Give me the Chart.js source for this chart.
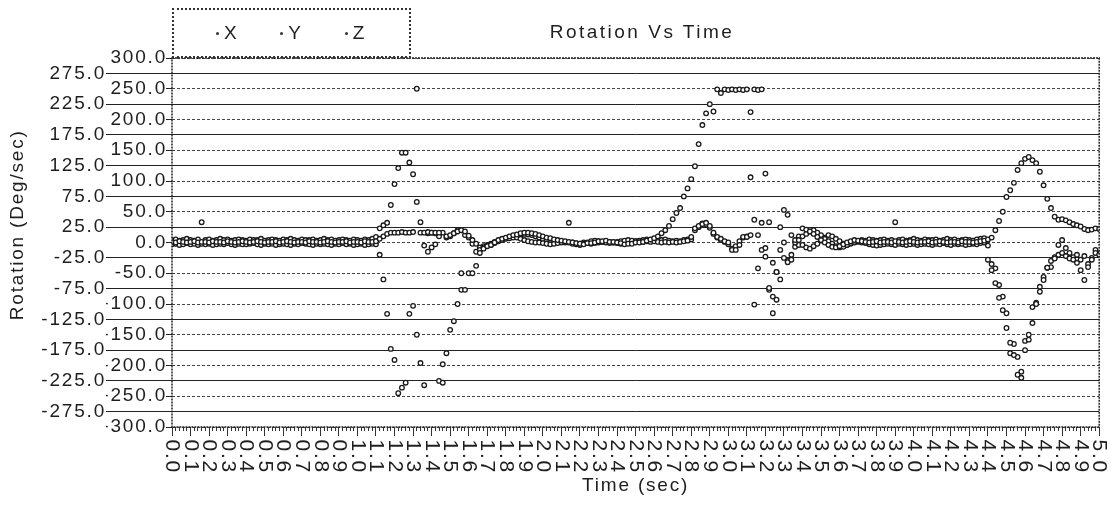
<!DOCTYPE html>
<html>
<head>
<meta charset="utf-8">
<title>Rotation Vs Time</title>
<script src="https://cdn.jsdelivr.net/npm/chart.js@4.4.1/dist/chart.umd.min.js"></script>
<style>
  html, body { margin: 0; padding: 0; background: #fff; }
  #wrap { position: relative; width: 1112px; height: 521px; font-family: 'Liberation Sans', Arial, sans-serif; color: #1e1e1e; }
  #rotation-chart { position: absolute; left: 0; top: 0; }
  #chart-title { position: absolute; left: 520px; width: 244px; top: 21px; text-align: center; font-size: 19px; line-height: 22px; letter-spacing: 2.5px; }
  #chart-legend { position: absolute; left: 172px; top: 8px; width: 239px; height: 50px; box-sizing: border-box; border: 2px dotted #333; display: flex; align-items: center; padding-left: 42px; }
  .legend-item { display: flex; align-items: center; width: 69px; font-size: 19px; letter-spacing: 2px; }
  .legend-dot { width: 3px; height: 3px; border-radius: 50%; background: #333; margin-right: 5px; }
</style>
</head>
<body>
<div id="wrap">
  <canvas id="rotation-chart" width="1112" height="521"></canvas>
  <div id="chart-title">Rotation Vs Time</div>
  <div id="chart-legend"></div>
</div>
<script>
// gyro log, one sample every 20 ms from 0 to 5 s
const SAMPLE_STEP = 0.02;
const seriesNames = ['X', 'Y', 'Z'];

const rotationX = [
  1, 0, 2, 1, 0, 1, 2, 0, 1, 1,
  0, 2, 1, 1, 0, 2, 1, 0, 1, 2,
  1, 0, 1, 2, 1, 0, 1, 1, 2, 0,
  1, 2, 1, 0, 1, 1, 0, 2, 1, 1,
  0, 1, 2, 1, 0, 1, 1, 2, 0, 1,
  1, 0, 2, 1, 1, 2, 6, 10, 14, 16,
  16, 16, 17, 16, 16, 17, 250, 16, 16, 17,
  16, 16, 16, -198, -180, -142, -128, -100, -77, -77,
  -50, -50, -38, -17, -10, -6, -4, 0, 4, 6,
  8, 10, 12, 13, 15, 16, 16, 15, 14, 12,
  10, 8, 7, 5, 4, 3, 2, 1, 0, -1,
  -2, -3, -1, -1, 0, 2, 2, 3, 1, 1,
  0, -1, -3, -2, -2, 0, 0, 1, 3, 5,
  7, 10, 15, 20, 27, 38, 48, 56, 75, 88,
  103, 124, 160, 191, 210, 225, 213, 249, 243, 249,
  248, 249, 248, 249, 248, 249, 212, 249, 248, 249,
  112, 33, -33, -48, -60, -25, 45, 12, 4, 4,
  23, 21, 18, 14, 9, 4, 0, -4, -7, -8,
  -6, -3, 0, 2, 4, 3, 2, 1, 0, 1,
  2, 0, 1, 1, 0, 2, 1, 0, 1, 2,
  1, 0, 1, 1, 2, 0, 1, 2, 1, 0,
  1, 1, 0, 2, 1, 1, 0, 1, 2, 3,
  5, 8, 20, 35, 50, 74, 85, 97, 118, 129,
  136, 139, 134, 129, 115, 93, 71, 56, 42, 37,
  38, 36, 33, 30, 28, 26, 22, 20, 21, 23,
  22
];

const rotationY = [
  -3, -2, -4, -3, -1, -3, -2, -4, -2, -3,
  -2, -4, -3, -2, -3, -1, -3, -4, -2, -3,
  -3, -2, -1, -3, -4, -2, -3, -2, -4, -3,
  -2, -3, -4, -2, -3, -1, -2, -3, -4, -2,
  -3, -2, -3, -4, -2, -3, -1, -3, -2, -4,
  -3, -2, -4, -3, -2, -3, -20, -60, -116, -173,
  -191, -245, -236, -228, -116, -103, -150, -196, -232, 15,
  16, 15, -225, -228, 10, 12, 15, 18, 20, 18,
  11, 4, -2, -12, -8, -5, -4, -1, 2, 4,
  6, 7, 8, 8, 6, 4, 2, 1, 0, 0,
  -1, -2, -3, -2, -1, 0, 1, 0, -2, -3,
  -4, -2, 0, 2, 3, 2, 1, 0, -1, 0,
  1, 2, 3, 4, 3, 2, 2, 1, 2, 1,
  2, 1, 0, 1, 0, 1, 0, 1, 2, 3,
  9, 23, 27, 30, 32, 27, 16, 9, 6, 2,
  0, -12, -12, -4, 9, 9, 12, 37, 12, 32,
  -9, -74, -88, -93, 25, 53, -32, -28, 0, 10,
  10, 14, 18, 20, 16, 12, 6, 2, -2, -6,
  -8, -7, -4, -1, 1, 2, 0, -1, -3, -4,
  -5, -4, -3, -2, -3, -4, -2, -3, -4, -3,
  -2, -4, -3, -2, -3, -4, -2, -3, -1, -3,
  -4, -2, -3, -2, -4, -3, -2, -3, -1, 0,
  -28, -45, -66, -90, -110, -139, -163, -183, -215, -220,
  -175, -150, -131, -100, -80, -61, -41, -30, -26, -20,
  -17, -22, -26, -28, -33, -45, -61, -40, -28, -17,
  -20
];

const rotationZ = [
  4, 5, 3, 4, 6, 4, 3, 5, 33, 4,
  5, 3, 4, 6, 4, 5, 3, 4, 5, 4,
  3, 5, 4, 4, 6, 3, 4, 5, 4, 3,
  5, 4, 6, 4, 3, 5, 4, 4, 5, 3,
  4, 6, 4, 5, 3, 4, 5, 4, 3, 5,
  4, 3, 5, 4, 6, 9, 23, 28, 32, 61,
  95, 121, 146, 146, 130, 111, 66, 33, -5, -15,
  -8, -3, 10, 16, 8, 10, 15, 20, -50, 12,
  8, -2, -15, -8, -6, -4, -2, 1, 3, 5,
  7, 9, 10, 12, 12, 14, 13, 12, 10, 8,
  6, 5, 4, 3, 2, 1, 0, 32, 0, -1,
  -2, 0, -1, -2, -1, 0, 1, 2, 1, 0,
  -1, -2, -1, 0, 1, 2, 3, 4, 5, 4,
  6, 5, 4, 5, 3, 2, 3, 2, 4, 5,
  5, 20, 25, 31, 29, 24, 14, 8, 4, 1,
  -3, -10, -6, 2, 8, 10, 106, -101, -42, -12,
  -23, -77, -115, -48, -12, 0, -30, -20, -7, -4,
  -4, -8, -10, -6, -2, 3, 8, 12, 10, 6,
  2, -2, -4, -2, 0, 1, 4, 3, 5, 4,
  3, 4, 5, 3, 4, 33, 4, 5, 3, 4,
  6, 4, 3, 5, 4, 4, 5, 3, 4, 6,
  4, 5, 3, 4, 5, 4, 3, 5, 6, 7,
  -5, -35, -42, -69, -88, -115, -180, -165, -186, -210,
  -160, -158, -105, -98, -72, -56, -41, -40, -24, -4,
  4, -9, -17, -24, -20, -28, -22, -35, -25, -12,
  -18
];

const timeRange = [0, 5];
const rotationRange = [-300, 300];

function toPoints(values) {
  return values.map((v, i) => ({ x: +(i * SAMPLE_STEP).toFixed(2), y: v }));
}

const isMultiple = (v, step) => Math.abs(v / step - Math.round(v / step)) < 1e-6;
const onFifty = (ctx) => !!ctx.tick && isMultiple(ctx.tick.value, 50);

// text on this plot is widely tracked, canvas state gets reset on resize so set it every pass
const letterSpacing = {
  id: 'letterSpacing',
  beforeUpdate(chart) { chart.ctx.letterSpacing = '1.8px'; },
  beforeDraw(chart) { chart.ctx.letterSpacing = '1.8px'; }
};

const plotFrame = {
  id: 'plotFrame',
  afterDraw(chart) {
    const { ctx, chartArea: a } = chart;
    ctx.save();
    ctx.strokeStyle = '#222';
    ctx.lineWidth = 1.5;
    ctx.setLineDash([2, 1]);
    ctx.strokeRect(a.left, a.top, a.right - a.left, a.bottom - a.top);
    ctx.restore();
  }
};

const htmlLegend = {
  id: 'htmlLegend',
  afterUpdate(chart) {
    const box = document.getElementById('chart-legend');
    box.innerHTML = '';
    chart.data.datasets.forEach((ds) => {
      const item = document.createElement('div');
      item.className = 'legend-item';
      const dot = document.createElement('span');
      dot.className = 'legend-dot';
      item.appendChild(dot);
      item.appendChild(document.createTextNode(ds.label));
      box.appendChild(item);
    });
  }
};

const datasets = [rotationX, rotationY, rotationZ].map((values, i) => ({
  label: seriesNames[i],
  data: toPoints(values),
  showLine: false,
  pointStyle: 'circle',
  pointRadius: 2.3,
  pointBorderWidth: 1.3,
  pointBorderColor: '#1a1a1a',
  pointBackgroundColor: '#fff'
}));

new Chart(document.getElementById('rotation-chart'), {
  type: 'scatter',
  data: { datasets },
  plugins: [letterSpacing, plotFrame, htmlLegend],
  options: {
    responsive: false,
    animation: false,
    events: [],
    layout: { padding: { top: 58, right: 8, bottom: 0, left: 0 } },
    font: { family: "'Liberation Sans', Arial, sans-serif" },
    color: '#1e1e1e',
    plugins: {
      legend: { display: false },
      title: { display: false },
      tooltip: { enabled: false }
    },
    scales: {
      x: {
        type: 'linear',
        position: 'bottom',
        min: timeRange[0],
        max: timeRange[1],
        afterFit(scale) { scale.height = 94; },
        border: { display: false },
        grid: {
          drawOnChartArea: false,
          tickLength: 9,
          tickColor: '#333',
          tickWidth: 1,
          tickBorderDash: (ctx) => (ctx.tick && isMultiple(ctx.tick.value, 0.1) ? [] : [4, 20])
        },
        ticks: {
          stepSize: 0.02,
          autoSkip: false,
          minRotation: -90,
          maxRotation: -90,
          padding: 38,
          color: '#1e1e1e',
          font: { size: 21 },
          callback: (v) => (isMultiple(v, 0.1) ? v.toFixed(1) : '')
        },
        title: {
          display: true,
          text: 'Time (sec)',
          color: '#1e1e1e',
          font: { size: 19 },
          padding: { top: 0, bottom: 24 }
        }
      },
      y: {
        position: 'left',
        weight: 0,
        min: rotationRange[0],
        max: rotationRange[1],
        afterFit(scale) { scale.width = 66; },
        border: {
          display: false,
          dash: (ctx) => (onFifty(ctx) ? [3, 2] : [])
        },
        grid: {
          color: (ctx) => (onFifty(ctx) ? '#444' : '#222'),
          lineWidth: 1,
          tickLength: 66,
          tickColor: '#222',
          // tick marks run from the outer end in to the axis: a short stub beside
          // the 50-step labels, a full lead line out to the 25-step ones
          tickBorderDash: (ctx) => (onFifty(ctx) ? [0, 60, 6, 10] : [])
        },
        ticks: {
          stepSize: 25,
          autoSkip: false,
          padding: -61,
          color: '#1e1e1e',
          font: { size: 19 },
          callback: (v) => (isMultiple(v, 50) ? v.toFixed(1) : '')
        }
      },
      y2: {
        position: 'left',
        weight: 1,
        min: rotationRange[0],
        max: rotationRange[1],
        afterFit(scale) { scale.width = 106; },
        border: { display: false },
        grid: { drawOnChartArea: false, drawTicks: false },
        ticks: {
          stepSize: 25,
          autoSkip: false,
          padding: 0,
          color: '#1e1e1e',
          font: { size: 19 },
          callback: (v) => (isMultiple(v, 50) ? '' : v.toFixed(1))
        },
        title: {
          display: true,
          text: '     Rotation (Deg/sec)',
          color: '#1e1e1e',
          font: { size: 19 },
          padding: { top: 6, bottom: 0 }
        }
      }
    }
  }
});
</script>
</body>
</html>
